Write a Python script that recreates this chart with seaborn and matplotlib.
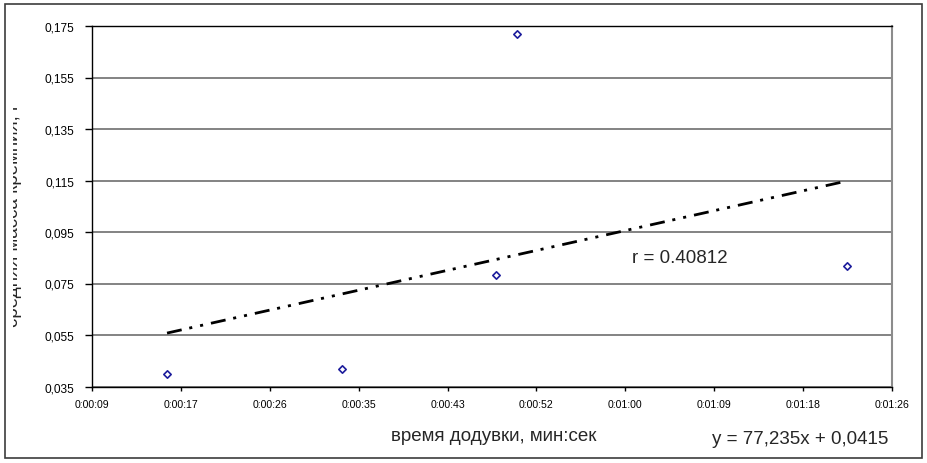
import numpy as np
import pandas as pd
import seaborn as sns
import matplotlib.pyplot as plt
from matplotlib.ticker import FuncFormatter, FixedLocator, MultipleLocator
from matplotlib.transforms import Bbox
from matplotlib.patches import Rectangle

# time is kept like Excel does it: fraction of a day
time_days = [0.0001844, 0.0003813, 0.0005545, 0.0005785, 0.000949]
mass_si = [0.0397, 0.0417, 0.0784, 0.1718, 0.0817]

# trendline as printed on the chart
slope = 77.235
intercept = 0.0415
r_text = 'r = 0.40812'
eq_text = 'y = 77,235x + 0,0415'

x_label = 'время додувки, мин:сек'
y_label = 'средняя масса кремния, г'
y_ticks = [0.035, 0.055, 0.075, 0.095, 0.115, 0.135, 0.155, 0.175]


def fmt_time(x, pos):
    sec = int(round(x * 86400))
    return '{}:{:02d}:{:02d}'.format(sec // 3600, (sec % 3600) // 60, sec % 60)


def fmt_mass(y, pos):
    return '{:.3f}'.format(y).replace('.', ',')


df = pd.DataFrame({'time': time_days, 'mass': mass_si})
trend = pd.DataFrame({'time': [min(time_days), max(time_days)]})
trend['mass'] = slope * trend['time'] + intercept

sns.set_style('white')
plt.rcParams['font.family'] = ['Liberation Sans', 'DejaVu Sans']

fig = plt.figure(figsize=(9.28, 4.64), dpi=100)
ax = fig.add_axes([92 / 928, 1 - 387.5 / 464, 800 / 928, 360.5 / 464])

# horizontal grid
for yv in y_ticks:
    ax.axhline(yv, color='#6e6e6e', lw=1.2, zorder=1)

sns.lineplot(data=trend, x='time', y='mass', ax=ax, color='black', lw=2,
             dashes=False, zorder=3)
ax.lines[-1].set_dashes([5.4, 2.8, 1.1, 2.9, 1.1, 2.9])

sns.scatterplot(data=df, x='time', y='mass', ax=ax, marker='D', s=14,
                facecolor='white', edgecolor='#1c1c9c', linewidth=1.2, zorder=4)

ax.set_xlim(0.0001, 0.001)
ax.set_ylim(0.035, 0.175)
ax.xaxis.set_major_locator(MultipleLocator(0.0001))
ax.yaxis.set_major_locator(FixedLocator(y_ticks))
ax.xaxis.set_major_formatter(FuncFormatter(fmt_time))
ax.yaxis.set_major_formatter(FuncFormatter(fmt_mass))
ax.tick_params(axis='x', direction='out', length=3, width=1, pad=6,
               labelsize=7.6, colors='black', bottom=True)
ax.tick_params(axis='y', direction='out', length=5, width=1, pad=8,
               labelsize=8.6, colors='black', left=True)
ax.set_xlabel('')
ax.set_ylabel('')

for side in ['left', 'bottom', 'top']:
    ax.spines[side].set_color('black')
    ax.spines[side].set_linewidth(1.0)
ax.spines['right'].set_color('#8c8c8c')
ax.spines['right'].set_linewidth(1.5)

# texts
ax.text(0.000708, 0.0852, r_text, fontsize=13.5, ha='left', va='center')
fig.text(494 / 928, 1 - 437 / 464, x_label, fontsize=13.5, ha='center', va='center')
fig.text(888 / 928, 1 - 440 / 464, eq_text, fontsize=13.5, ha='right', va='center')

# y label is cut off by the chart border on the left
yl = fig.text(18 / 928, 1 - 215 / 464, y_label, fontsize=13.5, rotation=90,
              rotation_mode='anchor', ha='center', va='baseline')
yl.set_clip_box(Bbox([[13, 0], [928, 464]]))
yl.set_clip_on(True)

# outer chart border
fig.patches.append(Rectangle((5 / 928, 5 / 464), 917 / 928, 454 / 464,
                             transform=fig.transFigure, fill=False,
                             edgecolor='#3c3c3c', lw=1.2))

fig.savefig('out.png', dpi=100)
